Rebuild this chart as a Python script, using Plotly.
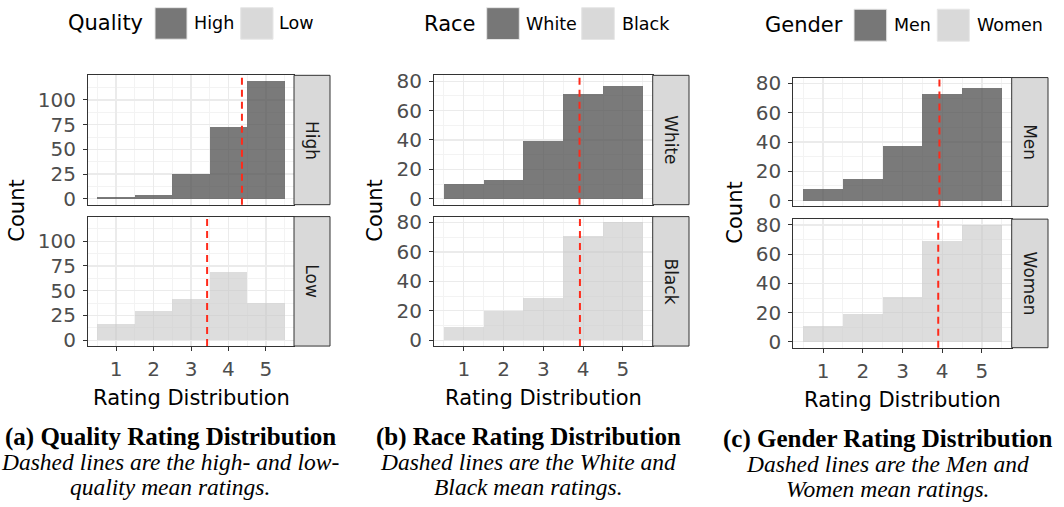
import plotly.graph_objects as go

# ---------------- data ----------------
ratings = [1, 2, 3, 4, 5]

quality_high = [2, 4, 25, 73, 119]
quality_low = [16, 29, 42, 69, 38]
quality_means = [4.36, 3.43]

race_white = [10, 13, 39, 71, 77]
race_black = [9, 20, 29, 71, 80]
race_means = [3.91, 3.92]

gender_men = [8, 15, 37, 73, 77]
gender_women = [11, 19, 31, 69, 80]
gender_means = [3.93, 3.90]

legend_titles = ["Quality", "Race", "Gender"]
facet_labels = [["High", "Low"], ["White", "Black"], ["Men", "Women"]]
captions = [
    ["(a) Quality Rating Distribution", "Dashed lines are the high- and low-", "quality mean ratings."],
    ["(b) Race Rating Distribution", "Dashed lines are the White and", "Black mean ratings."],
    ["(c) Gender Rating Distribution", "Dashed lines are the Men and", "Women mean ratings."],
]
x_title = "Rating Distribution"
y_title = "Count"

# ---------------- layout helpers ----------------
W, H = 1064, 507


def px(x):
    return x / W


def py(y):
    return 1 - y / H


SANS = "DejaVu Sans"
SERIF = "Liberation Serif"
DARK = "rgba(70,70,70,0.72)"
LIGHT = "rgba(200,200,200,0.62)"
DARK_KEY = "#777777"
LIGHT_KEY = "#d9d9d9"
GRID = "#ebebeb"
MINOR = "#f3f3f3"
BORDER = "#333333"

panels = [
    dict(x=(88, 294), strip=330, top=(71, 203.5), bot=(215.7, 348.3),
         data=[quality_high, quality_low], means=quality_means, ymax=119, dtick=25,
         count_x=17, xt_y=402, leg=dict(title_r=143, keys=[(155, 187), (240.7, 273)], lab=[193, 278], y=(1.7, 34)),
         cap_x=170, cap_y=[441, 467, 493]),
    dict(x=(434, 652.7), strip=689, top=(71, 203.5), bot=(215.7, 348.3),
         data=[race_white, race_black], means=race_means, ymax=80, dtick=20,
         count_x=375, xt_y=402, leg=dict(title_r=475, keys=[(486.7, 519.3), (581.7, 614.3)], lab=[525, 620.7], y=(1.7, 34.3)),
         cap_x=528, cap_y=[441, 467, 493]),
    dict(x=(793.3, 1011.7), strip=1048, top=(73.3, 205.3), bot=(218.3, 350),
         data=[gender_men, gender_women], means=gender_means, ymax=80, dtick=20,
         count_x=735, xt_y=404, leg=dict(title_r=842.7, keys=[(854, 886.7), (937.3, 969.3)], lab=[892.7, 975.7], y=(3.3, 36)),
         cap_x=887, cap_y=[443, 469, 495]),
]

fig = go.Figure()
layout = dict(
    width=W, height=H, autosize=False,
    margin=dict(l=0, r=0, t=0, b=0),
    paper_bgcolor="white", plot_bgcolor="white",
    showlegend=False, bargap=0,
)
shapes = []
annotations = []

ax = 0
for pi, p in enumerate(panels):
    yr = [-0.05 * p["ymax"], 1.05 * p["ymax"]]
    for fi in range(2):
        ax += 1
        xa = "xaxis" if ax == 1 else f"xaxis{ax}"
        ya = "yaxis" if ax == 1 else f"yaxis{ax}"
        xref = "x" if ax == 1 else f"x{ax}"
        yref = "y" if ax == 1 else f"y{ax}"
        ys = p["top"] if fi == 0 else p["bot"]
        bottom = fi == 1
        fig.add_trace(go.Bar(
            x=ratings, y=p["data"][fi], width=1,
            marker=dict(color=DARK if fi == 0 else LIGHT, line=dict(width=0)),
            xaxis=xref, yaxis=yref, hoverinfo="skip",
        ))
        layout[xa] = dict(
            domain=[px(p["x"][0]), px(p["x"][1])], anchor=yref,
            range=[0.25, 5.75], tickmode="linear", tick0=1, dtick=1,
            showgrid=True, gridcolor=GRID, gridwidth=1.2, zeroline=False,
            showline=True, mirror=True, linecolor=BORDER, linewidth=1,
            ticks="outside" if bottom else "", ticklen=4, tickcolor=BORDER, tickwidth=1,
            showticklabels=bottom,
            tickfont=dict(family=SANS, size=20, color="#4d4d4d"),
            ticklabelstandoff=1,
            minor=dict(tick0=0.5, dtick=0.5, showgrid=True, gridcolor=MINOR, gridwidth=1, ticks=""),
            fixedrange=True,
        )
        layout[ya] = dict(
            domain=[py(ys[1]), py(ys[0])], anchor=xref,
            range=yr, tickmode="linear", tick0=0, dtick=p["dtick"],
            showgrid=True, gridcolor=GRID, gridwidth=1.2, zeroline=False,
            showline=True, mirror=True, linecolor=BORDER, linewidth=1,
            ticks="outside", ticklen=4, tickcolor=BORDER, tickwidth=1,
            tickfont=dict(family=SANS, size=20, color="#4d4d4d"),
            ticklabelstandoff=3,
            minor=dict(tick0=0, dtick=p["dtick"] / 2, showgrid=True, gridcolor=MINOR, gridwidth=1, ticks=""),
            fixedrange=True,
        )
        # mean line
        shapes.append(dict(
            type="line", xref=xref, yref=f"{yref} domain",
            x0=p["means"][fi], x1=p["means"][fi], y0=0, y1=1,
            line=dict(color="#ff2a1a", width=2, dash="7px,5px"), layer="above",
        ))
        # strip
        shapes.append(dict(
            type="rect", xref="paper", yref="paper",
            x0=px(p["x"][1]), x1=px(p["strip"]), y0=py(ys[1]), y1=py(ys[0]),
            fillcolor="#d9d9d9", line=dict(color=BORDER, width=1), layer="above",
        ))
        annotations.append(dict(
            text=facet_labels[pi][fi], xref="paper", yref="paper",
            x=px((p["x"][1] + p["strip"]) / 2), y=py((ys[0] + ys[1]) / 2),
            textangle=90, showarrow=False, xanchor="center", yanchor="middle",
            font=dict(family=SANS, size=17, color="#1a1a1a"),
        ))
    # axis titles
    annotations.append(dict(
        text=y_title, xref="paper", yref="paper",
        x=px(p["count_x"]), y=py((p["top"][0] + p["bot"][1]) / 2),
        textangle=-90, showarrow=False, xanchor="center", yanchor="middle",
        font=dict(family=SANS, size=21, color="black"),
    ))
    annotations.append(dict(
        text=x_title, xref="paper", yref="paper",
        x=px((p["x"][0] + p["x"][1]) / 2), y=py(p["xt_y"]),
        showarrow=False, xanchor="center", yanchor="middle",
        font=dict(family=SANS, size=21, color="black"),
    ))
    # legend
    lg = p["leg"]
    ymid = (lg["y"][0] + lg["y"][1]) / 2
    annotations.append(dict(
        text=legend_titles[pi], xref="paper", yref="paper",
        x=px(lg["title_r"] + 2), y=py(ymid), showarrow=False,
        xanchor="right", yanchor="middle",
        font=dict(family=SANS, size=21, color="black"),
    ))
    for ki in range(2):
        k0, k1 = lg["keys"][ki]
        shapes.append(dict(
            type="rect", xref="paper", yref="paper",
            x0=px(k0), x1=px(k1), y0=py(lg["y"][1]), y1=py(lg["y"][0]),
            fillcolor=DARK_KEY if ki == 0 else LIGHT_KEY, line=dict(color="#e6e6e6", width=1),
        ))
        annotations.append(dict(
            text=facet_labels[pi][ki], xref="paper", yref="paper",
            x=px(lg["lab"][ki] - 1), y=py(ymid), showarrow=False,
            xanchor="left", yanchor="middle",
            font=dict(family=SANS, size=17.5, color="black"),
        ))
    # captions
    for li, line in enumerate(captions[pi]):
        txt = f"<b>{line}</b>" if li == 0 else f"<i>{line}</i>"
        annotations.append(dict(
            text=txt, xref="paper", yref="paper",
            x=px(p["cap_x"]), y=py(p["cap_y"][li]), showarrow=False,
            xanchor="center", yanchor="middle",
            font=dict(family=SERIF, size=25 if li == 0 else 23.5, color="black"),
        ))

layout["shapes"] = shapes
layout["annotations"] = annotations
fig.update_layout(**layout)
fig.write_html(
    "out.html",
    config={"displayModeBar": False, "staticPlot": True},
    post_script="document.body.style.margin='0';document.body.style.padding='0';document.body.style.overflow='hidden';",
)
